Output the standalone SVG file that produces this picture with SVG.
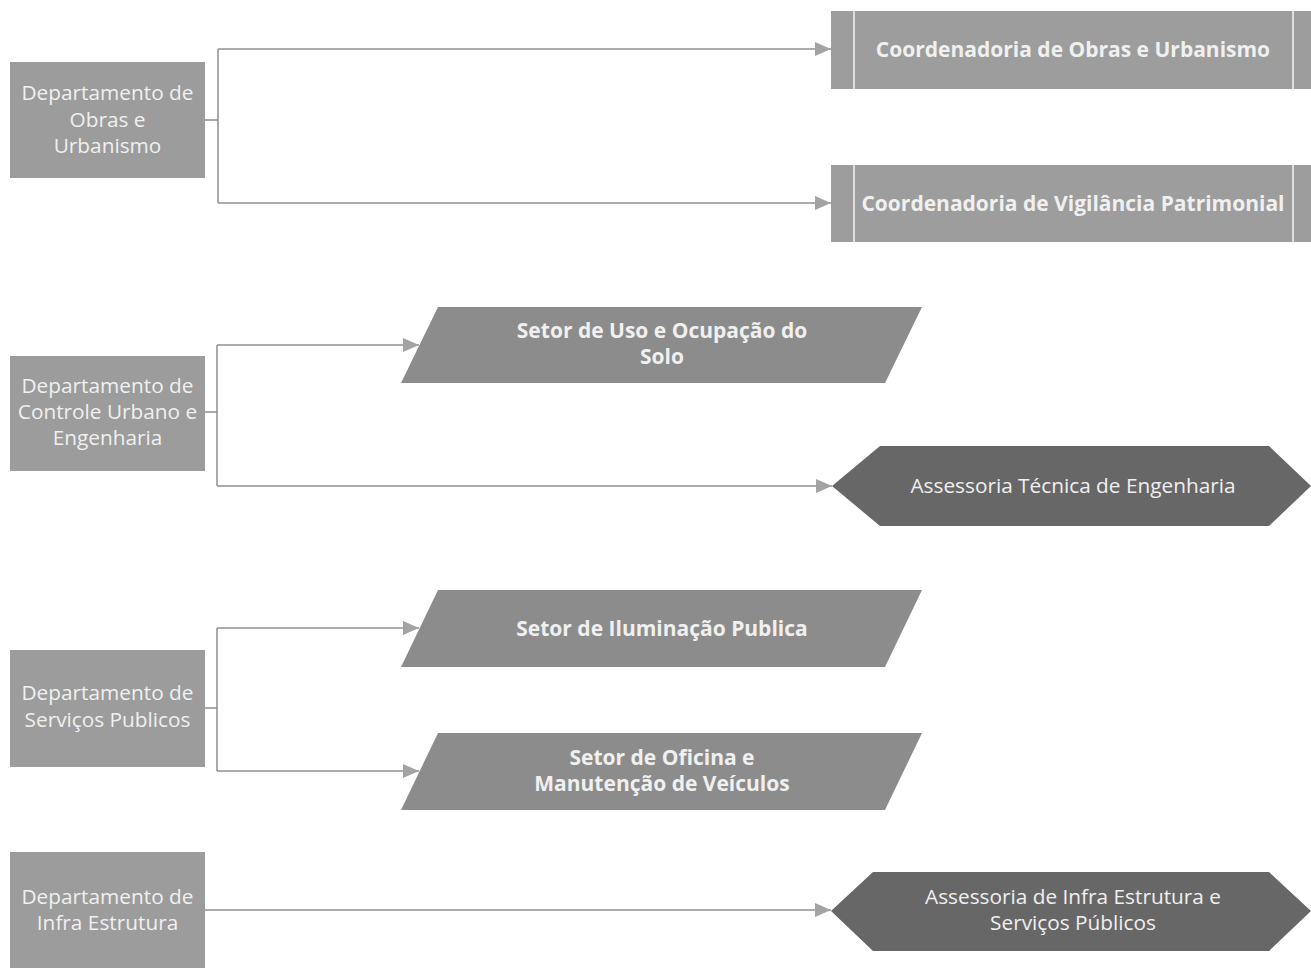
<svg xmlns="http://www.w3.org/2000/svg" width="1311" height="968" viewBox="0 0 1311 968">
<style>
.dept{fill:#9c9c9c}
.coord{fill:#9d9d9d}
.para{fill:#8c8c8c}
.hex{fill:#676767}
.sep{stroke:#f4f4f4;stroke-width:1.5}
.t{font-family:"Open Sans","Noto Sans","DejaVu Sans",sans-serif;text-anchor:middle;fill:#f0f0f0}
.tr{font-size:20.8px;font-weight:400}
.tb{font-size:21px;font-weight:700}
.conn{fill:none;stroke:#8f8f8f;stroke-width:1.5}
</style>
<defs>
<marker id="arr" markerUnits="userSpaceOnUse" markerWidth="17" markerHeight="15" refX="16" refY="7" orient="auto">
<path d="M0,0 L16,7 L0,14 z" fill="#a3a3a3"/>
</marker>
</defs>
<rect width="1311" height="968" fill="#ffffff"/>
<g id="connectors">
<path class="conn" d="M205,120 H218 M218,49 V203" />
<path class="conn" d="M218,49 H831" marker-end="url(#arr)"/>
<path class="conn" d="M218,203 H831" marker-end="url(#arr)"/>
<path class="conn" d="M205,412 H217 M217,345 V486"/>
<path class="conn" d="M217,345 H419" marker-end="url(#arr)"/>
<path class="conn" d="M217,486 H832" marker-end="url(#arr)"/>
<path class="conn" d="M205,708 H217 M217,628 V771"/>
<path class="conn" d="M217,628 H419" marker-end="url(#arr)"/>
<path class="conn" d="M217,771 H419" marker-end="url(#arr)"/>
<path class="conn" d="M205,910 H831" marker-end="url(#arr)"/>
</g>
<g id="dept-obras">
<rect class="dept" x="10" y="62" width="195" height="116"/>
<text class="t tr" x="107.5" y="100">Departamento de</text>
<text class="t tr" x="107.5" y="127">Obras e</text>
<text class="t tr" x="107.5" y="153">Urbanismo</text>
</g>
<g id="dept-controle">
<rect class="dept" x="10" y="356" width="195" height="115"/>
<text class="t tr" x="107.5" y="393">Departamento de</text>
<text class="t tr" x="107.5" y="419">Controle Urbano e</text>
<text class="t tr" x="107.5" y="445">Engenharia</text>
</g>
<g id="dept-servicos">
<rect class="dept" x="10" y="650" width="195" height="117"/>
<text class="t tr" x="107.5" y="700">Departamento de</text>
<text class="t tr" x="107.5" y="727">Serviços Publicos</text>
</g>
<g id="dept-infra">
<rect class="dept" x="10" y="852" width="195" height="116"/>
<text class="t tr" x="107.5" y="904">Departamento de</text>
<text class="t tr" x="107.5" y="930">Infra Estrutura</text>
</g>
<g id="coord-obras">
<rect class="coord" x="831" y="11" width="480" height="78"/>
<line class="sep" x1="854" y1="11" x2="854" y2="89"/>
<line class="sep" x1="1293" y1="11" x2="1293" y2="89"/>
<text class="t tb" x="1073" y="57">Coordenadoria de Obras e Urbanismo</text>
</g>
<g id="coord-vigilancia">
<rect class="coord" x="831" y="165" width="480" height="77"/>
<line class="sep" x1="854" y1="165" x2="854" y2="242"/>
<line class="sep" x1="1293" y1="165" x2="1293" y2="242"/>
<text class="t tb" x="1073" y="211">Coordenadoria de Vigilância Patrimonial</text>
</g>
<g id="setor-uso">
<polygon class="para" points="438,307 922,307 885,383 401,383"/>
<text class="t tb" x="662" y="338">Setor de Uso e Ocupação do</text>
<text class="t tb" x="662" y="364">Solo</text>
</g>
<g id="assessoria-tecnica">
<polygon class="hex" points="832,486 880,446 1269,446 1311,486 1269,526 880,526"/>
<text class="t tr" x="1073" y="493" fill="#e4e4e4">Assessoria Técnica de Engenharia</text>
</g>
<g id="setor-iluminacao">
<polygon class="para" points="438,590 922,590 885,667 401,667"/>
<text class="t tb" x="662" y="636">Setor de Iluminação Publica</text>
</g>
<g id="setor-oficina">
<polygon class="para" points="438,733 922,733 885,810 401,810"/>
<text class="t tb" x="662" y="765">Setor de Oficina e</text>
<text class="t tb" x="662" y="791">Manutenção de Veículos</text>
</g>
<g id="assessoria-infra">
<polygon class="hex" points="831,911 873,872 1269,872 1311,911 1269,951 873,951"/>
<text class="t tr" x="1073" y="904">Assessoria de Infra Estrutura e</text>
<text class="t tr" x="1073" y="930">Serviços Públicos</text>
</g>
</svg>
